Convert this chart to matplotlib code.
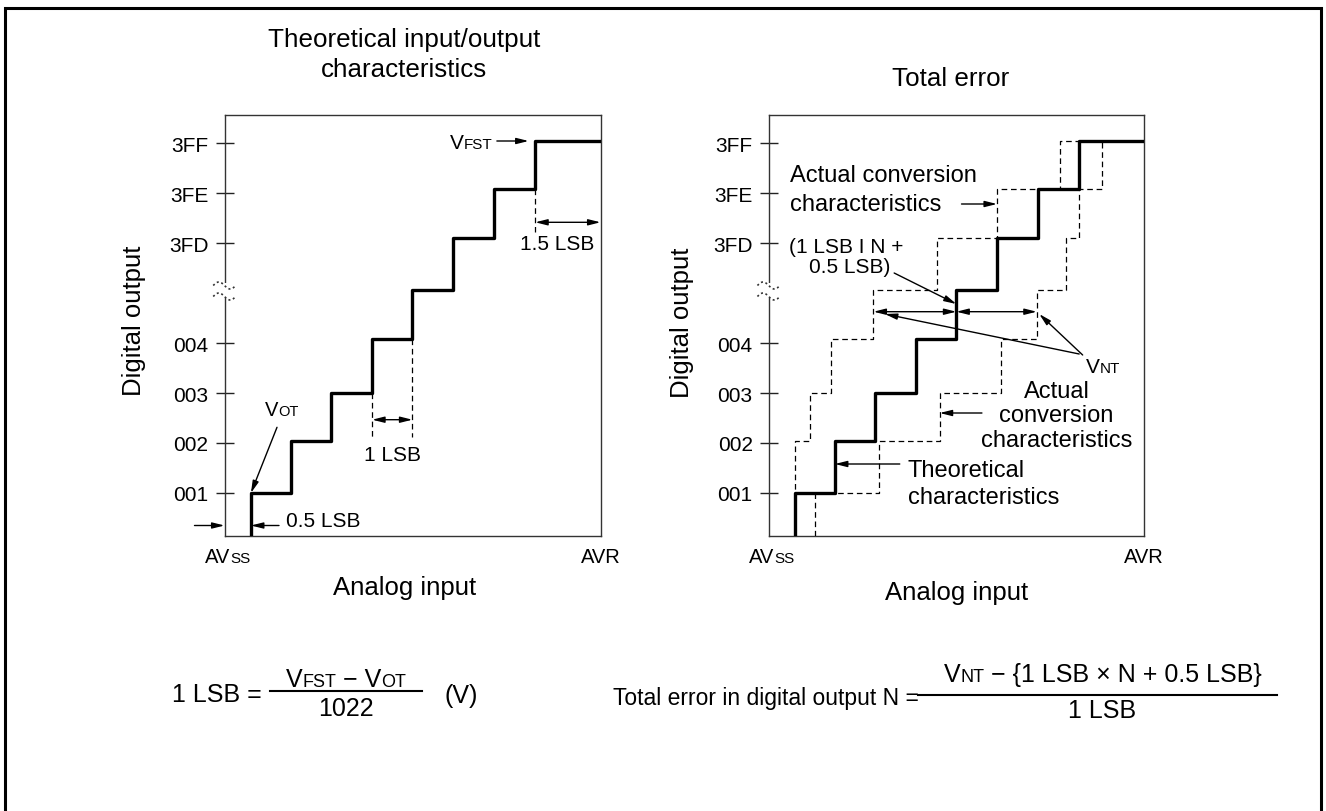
import matplotlib
matplotlib.use('Agg')
import matplotlib.pyplot as plt
from matplotlib.patches import Rectangle
from matplotlib.transforms import blended_transform_factory
import numpy as np

W, H = 1326, 812
plt.rcParams['font.family'] = ['Liberation Sans', 'DejaVu Sans']

# ---------------- data ----------------
tick_pos = [1, 2, 3, 4, 6, 7, 8]
tick_labels = ['001', '002', '003', '004', '3FD', '3FE', '3FF']
levels = [1.0, 2.04, 3.0, 4.08, 5.06, 6.10, 7.08, 8.04]
theory_x = [0.65, 1.63, 2.62, 3.63, 4.62, 5.63, 6.63, 7.64]
left_actual_x = [0.65, 0.65, 1.02, 1.54, 2.58, 4.14, 5.62, 7.18]
right_actual_x = [1.14, 2.71, 4.21, 5.72, 6.60, 7.33, 7.64, 8.20]
x_max = 9.245
y_min, y_max = 0.14, 8.56


def stair(trans, lv, x_end, y_start):
    xs = [trans[0]]
    ys = [y_start]
    for i in range(len(trans)):
        nxt = trans[i + 1] if i + 1 < len(trans) else x_end
        xs += [trans[i], nxt]
        ys += [lv[i], lv[i]]
    return xs, ys


fig = plt.figure(figsize=(W / 100, H / 100), dpi=100)
ax1 = fig.add_axes([224.5 / W, 1 - 537 / H, 376 / W, 421 / H])
ax2 = fig.add_axes([768.7 / W, 1 - 537 / H, 375.5 / W, 421 / H])

DASH = (0, (4.5, 3))

for ax in (ax1, ax2):
    ax.set_xlim(0, x_max)
    ax.set_ylim(y_min, y_max)
    ax.set_xticks([])
    ax.set_yticks(tick_pos)
    ax.set_yticklabels(tick_labels)
    ax.tick_params(axis='y', direction='inout', length=13, width=1.0, pad=5,
                   labelsize=15, color='#222')
    for sp in ax.spines.values():
        sp.set_linewidth(1.0)
        sp.set_color('#333')
    # axis break symbol
    bt = blended_transform_factory(ax.transAxes, ax.transData)
    ax.add_patch(Rectangle((-0.012, 4.90), 0.024, 0.30, transform=bt,
                           facecolor='white', edgecolor='none', clip_on=False, zorder=5))
    t = np.linspace(-np.pi, np.pi, 40)
    xx = np.linspace(-0.03, 0.03, 40)
    for y0 in (5.15, 4.93):
        ax.plot(xx, y0 - 0.07 * np.sin(t), transform=bt, ls=(0, (1.2, 1.6)), lw=1.2,
                color='#333', clip_on=False, zorder=6)

# staircases
ax1.plot(*stair(theory_x, levels, x_max, y_min), color='black', lw=2.4, zorder=4)
ax2.plot(*stair(left_actual_x, levels, theory_x[-1], y_min), color='black', lw=0.9,
         ls=DASH, zorder=3)
ax2.plot(*stair(right_actual_x, levels, x_max, y_min), color='black', lw=0.9,
         ls=DASH, zorder=3)
ax2.plot(*stair(theory_x, levels, x_max, y_min), color='black', lw=2.4, zorder=4)


def arrow(ax, p_from, p_to, both=False):
    style = ('<|-|>' if both else '-|>') + ',head_length=0.6,head_width=0.15'
    ax.annotate('', xy=p_to, xytext=p_from, xycoords='data', textcoords='data',
                arrowprops=dict(arrowstyle=style, mutation_scale=12, lw=1.0,
                                color='black', shrinkA=0, shrinkB=0),
                annotation_clip=False)


# ---------------- left plot annotations ----------------
FS_A = 15
ax1.plot([theory_x[3]] * 2, [levels[2], 2.08], color='black', lw=0.9, ls=DASH)
ax1.plot([theory_x[4]] * 2, [levels[3], 2.12], color='black', lw=0.9, ls=DASH)
arrow(ax1, (theory_x[3], 2.466), (theory_x[4], 2.466), both=True)
ax1.text((theory_x[3] + theory_x[4]) / 2, 1.66, '1 LSB', fontsize=FS_A,
         ha='center', va='baseline')

ax1.plot([theory_x[7]] * 2, [levels[6], 6.22], color='black', lw=0.9, ls=DASH)
arrow(ax1, (theory_x[7], 6.414), (x_max, 6.414), both=True)
ax1.text(8.17, 5.88, '1.5 LSB', fontsize=FS_A, ha='center', va='baseline')

arrow(ax1, (-0.738, 0.35), (0, 0.35))
arrow(ax1, (1.34, 0.35), (theory_x[0], 0.35))
ax1.text(1.50, 0.34, '0.5 LSB', fontsize=FS_A, ha='left', va='baseline')

arrow(ax1, (1.291, 2.314), (theory_x[0], levels[0]))
arrow(ax1, (6.697, levels[7]), (7.477, levels[7]))

# ---------------- right plot annotations ----------------
FS_B = 17
ax2.text(0.524, 7.246, 'Actual conversion', fontsize=FS_B, ha='left', va='baseline')
ax2.text(0.524, 6.666, 'characteristics', fontsize=FS_B, ha='left', va='baseline')
arrow(ax2, (4.747, 6.78), (left_actual_x[6], 6.78))

ax2.text(1.90, 5.814, '(1 LSB I N +', fontsize=FS_A, ha='center', va='baseline')
ax2.text(2.00, 5.414, '0.5 LSB)', fontsize=FS_A, ha='center', va='baseline')
arrow(ax2, (3.089, 5.40), (theory_x[4], 4.78))

arrow(ax2, (left_actual_x[4], 4.626), (theory_x[4], 4.626), both=True)
arrow(ax2, (theory_x[4], 4.626), (right_actual_x[4], 4.626), both=True)

arrow(ax2, (7.644, 3.78), (2.86, 4.58))
arrow(ax2, (7.73, 3.76), (6.66, 4.58))

for txt, yb in (('Actual', 2.914), ('conversion', 2.446), ('characteristics', 1.946)):
    ax2.text(7.09, yb, txt, fontsize=FS_B, ha='center', va='baseline')
arrow(ax2, (5.25, 2.6), (right_actual_x[2], 2.6))

ax2.text(3.426, 1.346, 'Theoretical', fontsize=FS_B, ha='left', va='baseline')
ax2.text(3.426, 0.80, 'characteristics', fontsize=FS_B, ha='left', va='baseline')
arrow(ax2, (3.227, 1.58), (theory_x[1], 1.58))

# ---------------- overlay (pixel coordinates) ----------------
ov = fig.add_axes([0, 0, 1, 1])
ov.set_xlim(0, W)
ov.set_ylim(H, 0)
ov.set_axis_off()

renderer = fig.canvas.get_renderer()


def d2p(ax, x, y):
    d = ax.transData.transform((x, y))
    return d[0], H - d[1]


def runs(x, y, parts, ha='left'):
    texts, widths = [], []
    for s, size in parts:
        t = ov.text(0, y, s, fontsize=size, ha='left', va='baseline')
        widths.append(t.get_window_extent(renderer).width)
        texts.append(t)
    total = sum(widths)
    x0 = x - total / 2 if ha == 'center' else (x - total if ha == 'right' else x)
    for t, w in zip(texts, widths):
        t.set_x(x0)
        x0 += w


# outer frame (open at the bottom)
ov.plot([4.5, 4.5, 1320.5, 1320.5], [H, 8.7, 8.7, H], color='black', lw=2.2,
        solid_joinstyle='miter')

# titles
ov.text(404, 46.7, 'Theoretical input/output', fontsize=18.7, ha='center', va='baseline')
ov.text(404, 77.3, 'characteristics', fontsize=18.7, ha='center', va='baseline')
ov.text(951, 86, 'Total error', fontsize=18.7, ha='center', va='baseline')

# axis titles
ov.text(134, 321, 'Digital output', fontsize=18.5, rotation=90, ha='center', va='center')
ov.text(682, 323, 'Digital output', fontsize=18.5, rotation=90, ha='center', va='center')
ov.text(404.6, 595, 'Analog input', fontsize=18.5, ha='center', va='baseline')
ov.text(957, 600, 'Analog input', fontsize=18.5, ha='center', va='baseline')

# AVss / AVR
for ax in (ax1, ax2):
    x0, y0 = d2p(ax, 0, y_min)
    runs(x0 + 3.5, y0 + 26, [('AV', 14.5), ('SS', 11)], ha='center')
    x1, y1 = d2p(ax, x_max, y_min)
    runs(x1, y1 + 26, [('AVR', 14.5)], ha='center')

# V labels
px, py = d2p(ax1, 1.414, 2.56)
runs(px, py, [('V', 14.5), ('OT', 10.5)], ha='center')
px, py = d2p(ax1, 6.594, 7.906)
runs(px, py, [('V', 15), ('FST', 11)], ha='right')
px, py = d2p(ax2, 7.80, 3.426)
runs(px, py, [('V', 15), ('NT', 11)], ha='left')

# formulas
ov.text(171.5, 701.7, '1 LSB =', fontsize=18, ha='left', va='baseline')
ov.plot([270, 421.7], [691.7, 691.7], color='black', lw=1.5)
runs(346, 686.7, [('V', 18), ('FST', 13), (' \u2212 V', 18), ('OT', 13)], ha='center')
ov.text(346, 716, '1022', fontsize=18, ha='center', va='baseline')
ov.text(445, 703, '(V)', fontsize=18, ha='left', va='baseline')

ov.text(919, 705, 'Total error in digital output N =', fontsize=16.5, ha='right',
        va='baseline')
ov.plot([918.3, 1277.3], [696, 696], color='black', lw=1.5)
runs(1102.8, 681.7, [('V', 18), ('NT', 13), (' \u2212 {1 LSB \u00d7 N + 0.5 LSB}', 18)],
     ha='center')
ov.text(1102.5, 718.3, '1 LSB', fontsize=18, ha='center', va='baseline')

fig.savefig('out.png', dpi=100)
